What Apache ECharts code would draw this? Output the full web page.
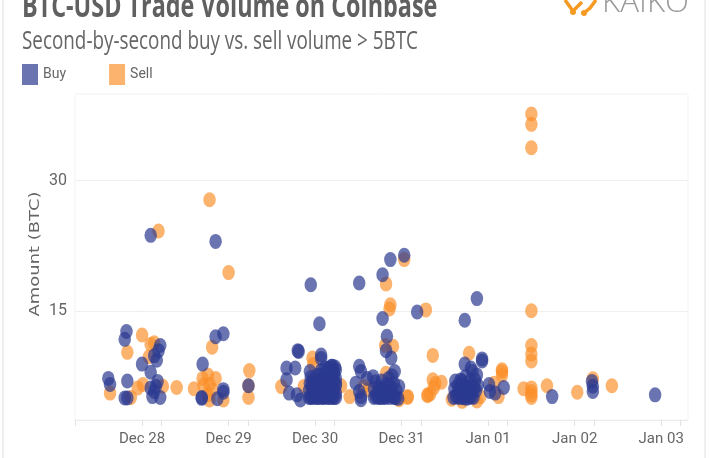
<!DOCTYPE html>
<html>
<head>
<meta charset="utf-8">
<title>BTC-USD Trade Volume on Coinbase</title>
<script src="https://cdn.jsdelivr.net/npm/echarts@6/dist/echarts.min.js"></script>
<style>
    html, body { margin: 0; padding: 0; background: #fff; overflow: hidden; }
    #chart { width: 710px; height: 458px; }
</style>
</head>
<body>
<div id="chart"></div>
<script>
// x is days after Dec 28, y is BTC
const dayLabels = ['Dec 28', 'Dec 29', 'Dec 30', 'Dec 31', 'Jan 01', 'Jan 02', 'Jan 03'];
const dayTicks = [0, 1, 2, 3, 4, 5, 6];
const subTicks = [-0.775, 0.225, 1.225, 2.225, 3.225, 4.225, 5.225, 6.225];
const amountTicks = [15, 30];

const sellDec28 = [
    [0.19, 24.2], [1.00, 19.4], [0.78, 27.8], [-0.37, 5.5], [0, 12.2], [-0.17, 10.2], [0.10, 11.1], [0.14, 11.3],
    [0.08, 9.7], [0.81, 10.8], [0.40, 6.15], [0.60, 6.0], [-0.05, 6.1], [0.01, 6.5], [0.24, 6.3], [-0.13, 5.0],
    [0.70, 7.2], [0.76, 7.6], [0.85, 7.2], [0.78, 6.5], [0.71, 6.4], [0.81, 5.9], [0.78, 4.7], [0.94, 4.7],
    [1.24, 8.1], [1.23, 5.0], [1.23, 6.35], [0.76, 5.3]
];
const sellDec30 = [
    [1.61, 6.25], [1.97, 9.55], [1.98, 8.8], [2.30, 6.35], [2.40, 5.1], [2.82, 18.1], [3.03, 20.9], [2.87, 15.7],
    [2.86, 15.2], [2.81, 11.0], [2.90, 10.9], [2.82, 7.8], [3.07, 5.1], [3.07, 5.0], [2.62, 5.9], [2.56, 6.25],
    [2.97, 4.75], [1.87, 6.25]
];
const sellJan01 = [
    [3.28, 15.1], [3.30, 5.3], [4.50, 15.0], [4.50, 11.0], [4.50, 10.0], [4.50, 9.2], [3.36, 9.85], [3.78, 10.1],
    [4.16, 8.2], [4.16, 7.6], [4.16, 8.0], [3.36, 7.05], [3.46, 6.75], [3.39, 6.6], [3.37, 6.1], [3.30, 5.2],
    [3.33, 5.4], [4.41, 6.0], [4.50, 6.1], [4.50, 5.7], [4.50, 5.3], [4.50, 5.0], [4.68, 6.35], [5.03, 5.6],
    [5.21, 7.15], [5.43, 6.35], [3.58, 4.8], [3.70, 4.55], [3.91, 5.1], [3.87, 4.6], [4.12, 5.1], [4.07, 6.65],
    [4.50, 37.7], [4.50, 36.5], [4.50, 33.8]
];

const buyDec28 = [
    [0.10, 23.7], [0.85, 23.0], [-0.18, 12.6], [-0.20, 11.7], [0.21, 11.0], [0.19, 10.4], [0.14, 9.8], [0.17, 9.3],
    [0, 8.85], [0.10, 7.9], [-0.39, 7.2], [-0.37, 6.5], [-0.17, 6.9], [0.18, 6.85], [0.10, 6.1], [0.14, 5.7],
    [0.12, 5.1], [0.21, 5.0], [-0.20, 4.95], [-0.17, 4.95], [0.16, 6.3], [0.70, 8.85], [0.85, 12.0], [0.94, 12.35],
    [0.94, 5.9], [0.94, 5.6], [0.69, 5.0], [0.69, 4.9], [0.87, 4.85], [1.23, 6.35]
];
const buyDec30 = [
    [1.95, 18.0], [2.51, 18.2], [2.78, 19.15], [2.87, 20.9], [3.03, 21.4], [3.18, 14.85], [2.05, 13.5], [2.78, 14.1],
    [2.83, 12.05], [2.82, 10.4], [2.88, 9.55], [1.80, 10.4], [1.81, 10.3], [2.07, 9.9], [2.07, 9.5], [1.67, 8.4],
    [1.77, 8.4], [1.67, 7.05], [1.94, 8.0], [2.20, 8.6], [1.70, 5.5], [1.79, 5.3], [1.83, 4.7]
];
const buyDec30Cluster = [
    [1.93, 5.0], [1.93, 5.8], [1.94, 6.6], [1.95, 7.3], [1.96, 5.2], [1.97, 6.1], [1.97, 5.0], [1.98, 7.0],
    [1.98, 5.6], [2.00, 6.4], [2.01, 5.0], [2.02, 7.5], [2.03, 5.8], [2.05, 6.8], [2.05, 5.0], [2.07, 8.1],
    [2.08, 5.5], [2.08, 7.2], [2.10, 6.2], [2.10, 5.0], [2.12, 7.8], [2.13, 5.6], [2.13, 6.9], [2.15, 5.0],
    [2.15, 8.3], [2.16, 6.3], [2.17, 7.4], [2.18, 5.4], [2.19, 8.6], [2.20, 6.7], [2.20, 5.0], [2.22, 7.7],
    [2.22, 5.8], [2.23, 8.5], [2.24, 6.4], [2.24, 5.0], [2.24, 7.2], [2.24, 8.2], [2.24, 5.5], [2.24, 6.6],
    [1.95, 5.0], [1.99, 5.1], [2.03, 5.0], [2.06, 5.2], [2.09, 5.0], [2.12, 5.1], [2.16, 5.0], [2.19, 5.1],
    [2.22, 5.0], [1.99, 6.0], [2.04, 6.2], [2.09, 5.9], [2.14, 6.2], [2.19, 6.0], [2.06, 7.6], [2.10, 7.0],
    [2.14, 7.8], [2.18, 7.2], [2.21, 8.0], [2.02, 6.7], [1.96, 6.4], [2.11, 8.4], [2.17, 8.4], [2.21, 6.9]
];
const buyDec31 = [
    [2.51, 8.6], [2.53, 8.0], [2.47, 6.65], [2.51, 5.7], [2.53, 4.75], [2.53, 5.1], [2.67, 7.4], [2.60, 7.2],
    [2.92, 8.0], [2.97, 6.25], [2.96, 4.9],
    [2.68, 5.0], [2.68, 6.0], [2.70, 6.8], [2.71, 5.4], [2.73, 5.0], [2.74, 6.2], [2.76, 5.6], [2.77, 6.9],
    [2.78, 5.0], [2.80, 5.9], [2.81, 5.0], [2.83, 6.5], [2.84, 5.4], [2.85, 7.2], [2.86, 5.0], [2.88, 6.0],
    [2.89, 7.5], [2.90, 5.2], [2.91, 6.6], [2.93, 5.0], [2.94, 5.8],
    [2.70, 5.1], [2.75, 5.0], [2.79, 5.5], [2.82, 5.1], [2.87, 5.5], [2.91, 5.0], [2.75, 6.0], [2.86, 6.4]
];
const buyJan01 = [
    [3.87, 16.4], [3.73, 13.9], [3.93, 9.45], [3.93, 9.2], [3.73, 8.85], [3.80, 8.4], [3.82, 8.0], [3.87, 7.6],
    [4.01, 6.5], [4.02, 5.7], [4.08, 5.5], [4.18, 6.15], [4.74, 5.1], [5.20, 6.85], [5.21, 6.3], [5.21, 5.7], [5.93, 5.3],
    [3.60, 5.0], [3.61, 6.0], [3.62, 6.9], [3.64, 5.4], [3.65, 6.4], [3.66, 5.0], [3.68, 7.0], [3.69, 5.8],
    [3.70, 5.0], [3.71, 6.5], [3.73, 5.4], [3.74, 7.4], [3.75, 4.9], [3.76, 6.1], [3.78, 5.0], [3.79, 6.9],
    [3.80, 5.6], [3.82, 6.3], [3.83, 5.0], [3.85, 7.0], [3.86, 5.8], [3.88, 6.4],
    [3.63, 5.1], [3.67, 5.9], [3.72, 5.0], [3.74, 6.2], [3.77, 5.6], [3.81, 5.1], [3.84, 6.1], [3.70, 6.9]
];

const buyData = [...buyDec28, ...buyDec30, ...buyDec30Cluster, ...buyDec31, ...buyJan01];
const sellData = [...sellDec28, ...sellDec30, ...sellJan01];

const ELLIPSE = 'path://M0,-1A1,1 0 1,1 0,1A1,1 0 1,1 0,-1Z';
const LOGO_ORANGE = '#f59a23';

let chart = echarts.init(document.getElementById('chart'));

let option = {
    animation: false,
    backgroundColor: '#fff',
    legend: {
        left: 22, top: 64, padding: 0,
        itemWidth: 16, itemHeight: 21, itemGap: 43,
        icon: 'rect',
        data: ['Buy', 'Sell'],
        textStyle: { color: '#666', fontFamily: 'Roboto', fontSize: 14 }
    },
    grid: { left: 75, right: 22, top: 94, bottom: 38, show: true, borderColor: '#f3f3f3', borderWidth: 1 },
    xAxis: {
        type: 'value',
        min: -0.775, max: 6.31,
        splitLine: { show: false },
        axisLine: { lineStyle: { color: '#ececec' } },
        axisTick: { length: 6, lineStyle: { color: '#e2e2e2' }, customValues: [...dayTicks, ...subTicks] },
        axisLabel: {
            customValues: dayTicks,
            formatter: v => dayLabels[dayTicks.indexOf(v)],
            color: '#666', fontFamily: 'Roboto', fontSize: 15, margin: 12,
            showMinLabel: true, showMaxLabel: true
        }
    },
    yAxis: {
        type: 'value',
        min: 2.4, max: 40,
        axisLine: { show: false },
        axisTick: { show: true, length: 4, lineStyle: { color: '#eee' }, customValues: amountTicks },
        splitLine: { lineStyle: { color: '#efefef' } },
        axisLabel: { customValues: amountTicks, color: '#666', fontFamily: 'Roboto', fontSize: 16, margin: 8 }
    },
    series: [
        {
            name: 'Buy', type: 'scatter', data: buyData, z: 3,
            symbol: ELLIPSE, symbolSize: [12.5, 15],
            itemStyle: { color: '#2b3990', opacity: 0.7 }
        },
        {
            name: 'Sell', type: 'scatter', data: sellData, z: 2,
            symbol: ELLIPSE, symbolSize: [12.5, 15],
            itemStyle: { color: '#fb8f2a', opacity: 0.68 }
        }
    ],
    graphic: [
        { type: 'rect', shape: { x: 2, y: 0, width: 2, height: 458 }, style: { fill: '#eeeeee' } },
        { type: 'rect', shape: { x: 704, y: 0, width: 2, height: 458 }, style: { fill: '#f0f0f0' } },
        {
            type: 'text', x: 22, y: 8, scaleX: 0.73,
            style: { text: 'BTC-USD Trade Volume on Coinbase', fill: '#606060', font: 'bold 32px "Open Sans"', verticalAlign: 'middle' }
        },
        {
            type: 'text', x: 22, y: 42, scaleX: 0.754,
            style: { text: 'Second-by-second buy vs. sell volume > 5BTC', fill: '#666', font: '25px "Open Sans"', verticalAlign: 'middle' }
        },
        {
            type: 'text', x: 35, y: 254, rotation: Math.PI / 2, scaleX: 1.28,
            style: { text: 'Amount (BTC)', fill: '#666', font: '14px "DejaVu Sans"', align: 'center', verticalAlign: 'middle' }
        },
        // logo
        { type: 'polyline', shape: { points: [[565, 0], [573, 11], [582, 2]] }, style: { stroke: LOGO_ORANGE, lineWidth: 3.5, fill: 'none' } },
        { type: 'polyline', shape: { points: [[596, 0], [590, 8], [584, 13]] }, style: { stroke: LOGO_ORANGE, lineWidth: 3.5, fill: 'none' } },
        { type: 'circle', shape: { cx: 573, cy: 12, r: 3 }, style: { fill: LOGO_ORANGE } },
        { type: 'circle', shape: { cx: 584, cy: 13, r: 3 }, style: { fill: LOGO_ORANGE } },
        {
            type: 'text', x: 602, y: 3, scaleX: 1.01,
            style: { text: 'KAIKO', fill: '#9a9a9a', font: '300 31px "Open Sans"', verticalAlign: 'middle' }
        }
    ]
};

chart.setOption(option);
</script>
</body>
</html>
